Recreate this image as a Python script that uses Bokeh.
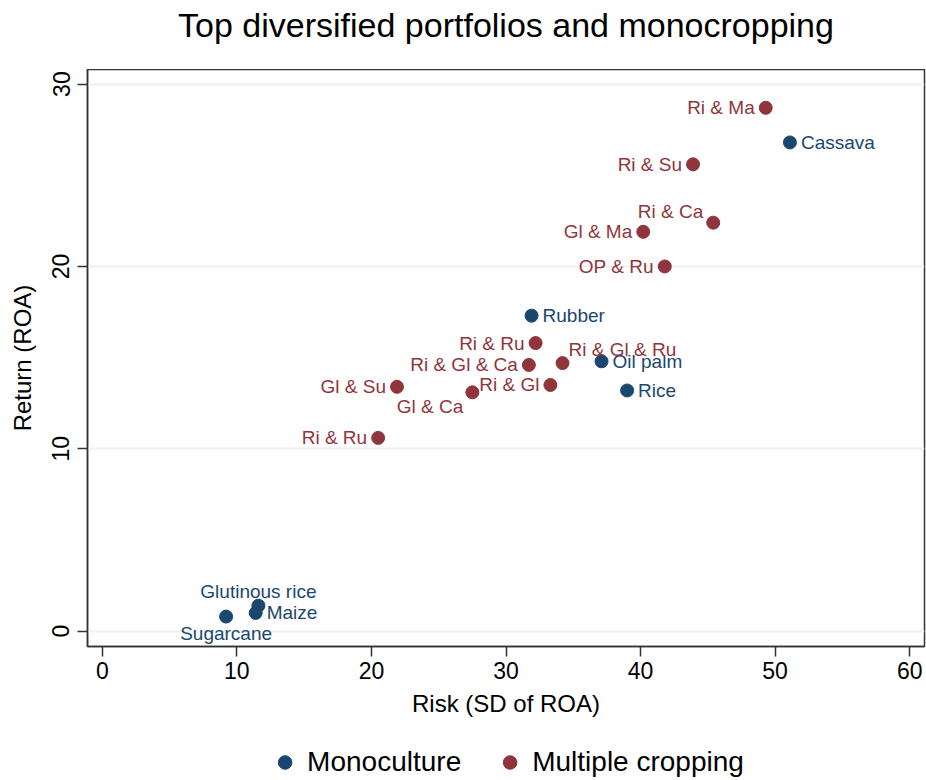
from bokeh.plotting import figure
from bokeh.layouts import column
from bokeh.models import (ColumnDataSource, Legend, LegendItem, Range1d, FixedTicker,
                          Label)
from bokeh.core.properties import value
from bokeh.embed import file_html
from bokeh.resources import INLINE

# ---------------- data ----------------
title_text = "Top diversified portfolios and monocropping"

mono_names = ["Cassava", "Rubber", "Oil palm", "Rice", "Glutinous rice", "Maize", "Sugarcane"]
mono_risk = [51.1, 31.9, 37.1, 39.0, 11.6, 11.4, 9.2]
mono_return = [26.8, 17.3, 14.8, 13.2, 1.4, 1.0, 0.8]
mono_labpos = [3, 3, 3, 3, 12, 3, 6]  # clock position of label

multi_names = ["Ri & Ma", "Ri & Su", "Ri & Ca", "Gl & Ma", "OP & Ru", "Ri & Ru",
               "Ri & Gl & Ru", "Ri & Gl & Ca", "Ri & Gl", "Gl & Su", "Gl & Ca", "Ri & Ru"]
multi_risk = [49.3, 43.9, 45.4, 40.2, 41.8, 32.2, 34.2, 31.7, 33.3, 21.9, 27.5, 20.5]
multi_return = [28.7, 25.6, 22.4, 21.9, 20.0, 15.8, 14.7, 14.6, 13.5, 13.4, 13.1, 10.6]
multi_labpos = [9, 9, 11, 9, 9, 9, 1, 9, 9, 9, 7, 9]

series_names = ["Monoculture", "Multiple cropping"]
x_ticks = [0, 10, 20, 30, 40, 50, 60]
y_ticks = [0, 10, 20, 30]

# ---------------- style ----------------
NAVY = "#1A476F"
MAROON = "#90353B"
FONT = "Liberation Sans"
FRAME = "#333333"
W = 926
LEFT, RIGHT = 87, 2

CLOCK = {  # dx, dy (screen px), align
    3: (11, 0, "left"),
    9: (-11, 0, "right"),
    12: (0, -14, "center"),
    6: (0, 17, "center"),
    11: (-10, -11, "right"),
    1: (6, -14, "left"),
    7: (-9, 14, "right"),
}


def make_source(xs, ys, names, pos):
    return ColumnDataSource(dict(
        x=xs, y=ys, name=names,
        dx=[CLOCK[k][0] for k in pos],
        dy=[CLOCK[k][1] for k in pos],
        align=[CLOCK[k][2] for k in pos],
    ))


def strip(height):
    f = figure(width=W, height=height, output_backend="svg", toolbar_location=None,
               x_axis_type=None, y_axis_type=None,
               x_range=Range1d(-2, -1), y_range=Range1d(-2, -1),
               min_border_left=LEFT, min_border_right=RIGHT, min_border_top=0,
               min_border_bottom=0)
    f.outline_line_color = None
    f.background_fill_color = "white"
    f.border_fill_color = "white"
    return f


src_mono = make_source(mono_risk, mono_return, mono_names, mono_labpos)
src_multi = make_source(multi_risk, multi_return, multi_names, multi_labpos)

# ---------------- title strip ----------------
pt = strip(69)
pt.add_layout(Label(x=(W - LEFT - RIGHT) / 2, y=45, x_units="screen", y_units="screen",
                    text=title_text, text_align="center", text_baseline="middle",
                    text_font=FONT, text_font_size="34px", text_color="black"))

# ---------------- main plot ----------------
p = figure(width=W, height=675, output_backend="svg", toolbar_location=None,
           x_range=Range1d(-1.1, 61.1), y_range=Range1d(-0.84, 30.8),
           min_border_left=LEFT, min_border_right=RIGHT, min_border_top=0,
           min_border_bottom=98)

p.background_fill_color = "white"
p.border_fill_color = "white"
p.outline_line_color = FRAME
p.outline_line_width = 1.5

p.scatter("x", "y", source=src_mono, size=13, color=NAVY)
p.scatter("x", "y", source=src_multi, size=13, color=MAROON)

for src, col in ((src_mono, NAVY), (src_multi, MAROON)):
    p.text("x", "y", text="name", source=src, x_offset="dx", y_offset="dy",
           text_align="align", text_baseline="middle",
           text_font=value(FONT), text_font_size="19px", text_color=col)

p.xaxis.ticker = FixedTicker(ticks=x_ticks)
p.yaxis.ticker = FixedTicker(ticks=y_ticks)
for ax in (p.xaxis[0], p.yaxis[0]):
    ax.axis_line_color = FRAME
    ax.axis_line_width = 1.5
    ax.major_tick_line_color = FRAME
    ax.major_tick_line_width = 1.5
    ax.major_tick_out = 10
    ax.major_tick_in = 0
    ax.minor_tick_line_color = None
    ax.major_label_text_font = FONT
    ax.major_label_text_font_size = "23px"
    ax.major_label_text_color = "black"
    ax.axis_label_text_font = FONT
    ax.axis_label_text_font_size = "24px"
    ax.axis_label_text_font_style = "normal"
    ax.axis_label_text_color = "black"

p.xaxis.axis_label = "Risk (SD of ROA)"
p.yaxis.axis_label = "Return (ROA)"
p.xaxis.major_label_standoff = 5
p.xaxis.axis_label_standoff = 8
p.yaxis.major_label_orientation = "vertical"
p.yaxis.major_label_standoff = 8
p.yaxis.axis_label_standoff = 14

p.xgrid.grid_line_color = None
p.ygrid.grid_line_color = "#EAF2F3"
p.ygrid.grid_line_width = 2

# ---------------- legend strip ----------------
pl = strip(36)
# same data, drawn outside this strip's view: only the legend keys show
lr_mono = pl.scatter("x", "y", source=src_mono, size=13, color=NAVY)
lr_multi = pl.scatter("x", "y", source=src_multi, size=13, color=MAROON)

legend = Legend(items=[LegendItem(label=series_names[0], renderers=[lr_mono]),
                       LegendItem(label=series_names[1], renderers=[lr_multi])],
                orientation="horizontal", location="center",
                glyph_width=34, glyph_height=34, label_standoff=6, spacing=31,
                label_text_font=FONT, label_text_font_size="28px",
                label_text_color="black",
                border_line_alpha=0, background_fill_alpha=0, padding=0, margin=1)
pl.add_layout(legend, "center")

layout = column(pt, p, pl, spacing=0)
open("out.html", "w").write(file_html(layout, INLINE))
